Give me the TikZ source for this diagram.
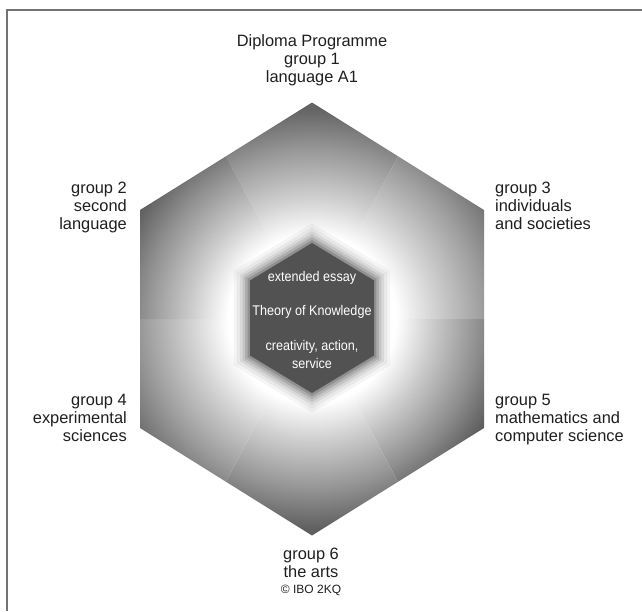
\documentclass[tikz,border=0pt]{standalone}
\usepackage{fontspec}
\setmainfont{Liberation Sans}
\newfontfamily\narrowfont[FakeStretch=0.9]{Liberation Sans}
\usetikzlibrary{calc}
\colorlet{vdark}{black!60}
\pgfdeclareradialshading[vdark]{ctr}{\pgfpoint{0bp}{0bp}}{color(0bp)=(white); color(7bp)=(white); color(10bp)=(vdark!28!white); color(14bp)=(vdark!62!white); color(17.5bp)=(vdark!95!white); color(50bp)=(vdark)}
\newcommand\ihexpath[1]{(0,{-75*#1}) -- ({62*#1},{-37.5*#1}) -- ({62*#1},{37.5*#1}) -- (0,{75*#1}) -- ({-62*#1},{37.5*#1}) -- ({-62*#1},{-37.5*#1}) -- cycle}
\begin{document}
\begin{tikzpicture}[x=1pt,y=-1pt,
  lbl/.style={font=\fontsize{16.4}{18.2}\selectfont, text=black!88, inner sep=0pt},
  inlbl/.style={font=\narrowfont\fontsize{14}{18}\selectfont, text=white, inner sep=0pt, align=center},
  frameline/.style={draw=black!55, line width=1.3pt}]
\useasboundingbox (0,0) rectangle (642,611);
\fill[white] (0,0) rectangle (642,611);
\draw[frameline] (642,10) -- (7,10) -- (7,611);
% outer hexagon vertices
\coordinate (C) at (312,319);
\coordinate (V1) at (312,102.5);
\coordinate (V2) at (484,210);
\coordinate (V3) at (484,428);
\coordinate (V4) at (312,535.5);
\coordinate (V5) at (140,428);
\coordinate (V6) at (140,210);
\coordinate (M12) at ($(V1)!0.5!(V2)$);
\coordinate (M23) at ($(V2)!0.5!(V3)$);
\coordinate (M34) at ($(V3)!0.5!(V4)$);
\coordinate (M45) at ($(V4)!0.5!(V5)$);
\coordinate (M56) at ($(V5)!0.5!(V6)$);
\coordinate (M61) at ($(V6)!0.5!(V1)$);
\foreach \ma/\v/\mb/\dk in {M61/V1/M12/64, M12/V2/M23/60, M23/V3/M34/72, M34/V4/M45/66, M45/V5/M56/62, M56/V6/M61/70}{
  \begin{scope}
    \clip (C) -- (\ma) -- (\v) -- (\mb) -- cycle;
    \colorlet{vdark}{black!\dk}
    \shade[shading=ctr] (C) circle[radius=300pt];
  \end{scope}
}
% inner hexagon with soft edge
\begin{scope}[shift={(312,318)}]
  \foreach \s/\o in {1.26/0.06, 1.21/0.08, 1.16/0.11, 1.12/0.15, 1.08/0.22, 1.04/0.32}{
    \fill[black!66, opacity=\o] \ihexpath{\s};
  }
  \fill[black!68] \ihexpath{1.0};
\end{scope}
\node[inlbl] (ee) at (312,278) {extended essay};
\node[inlbl] (tok) at (312,312) {Theory of Knowledge};
\node[inlbl] (cas) at (312,354) {creativity, action,\\service};
% labels
\node[lbl, align=center, anchor=north] (g1) at (312,34.3) {Diploma Programme\\group 1\\language A1};
\node[lbl, align=right, anchor=north east] (g2) at (127,181.6) {group 2\\second\\language};
\node[lbl, align=left, anchor=north west] (g3) at (495,181.6) {group 3\\individuals\\and societies};
\node[lbl, align=right, anchor=north east] (g4) at (127,393.6) {group 4\\experimental\\sciences};
\node[lbl, align=left, anchor=north west] (g5) at (495,393.6) {group 5\\mathematics and\\computer science};
\node[lbl, align=center, anchor=north] (g6) at (311,547.6) {group 6\\the arts\\[-2.2pt]{\fontsize{12}{14}\selectfont\textcopyright{} IBO 2KQ}};
\end{tikzpicture}
\end{document}
